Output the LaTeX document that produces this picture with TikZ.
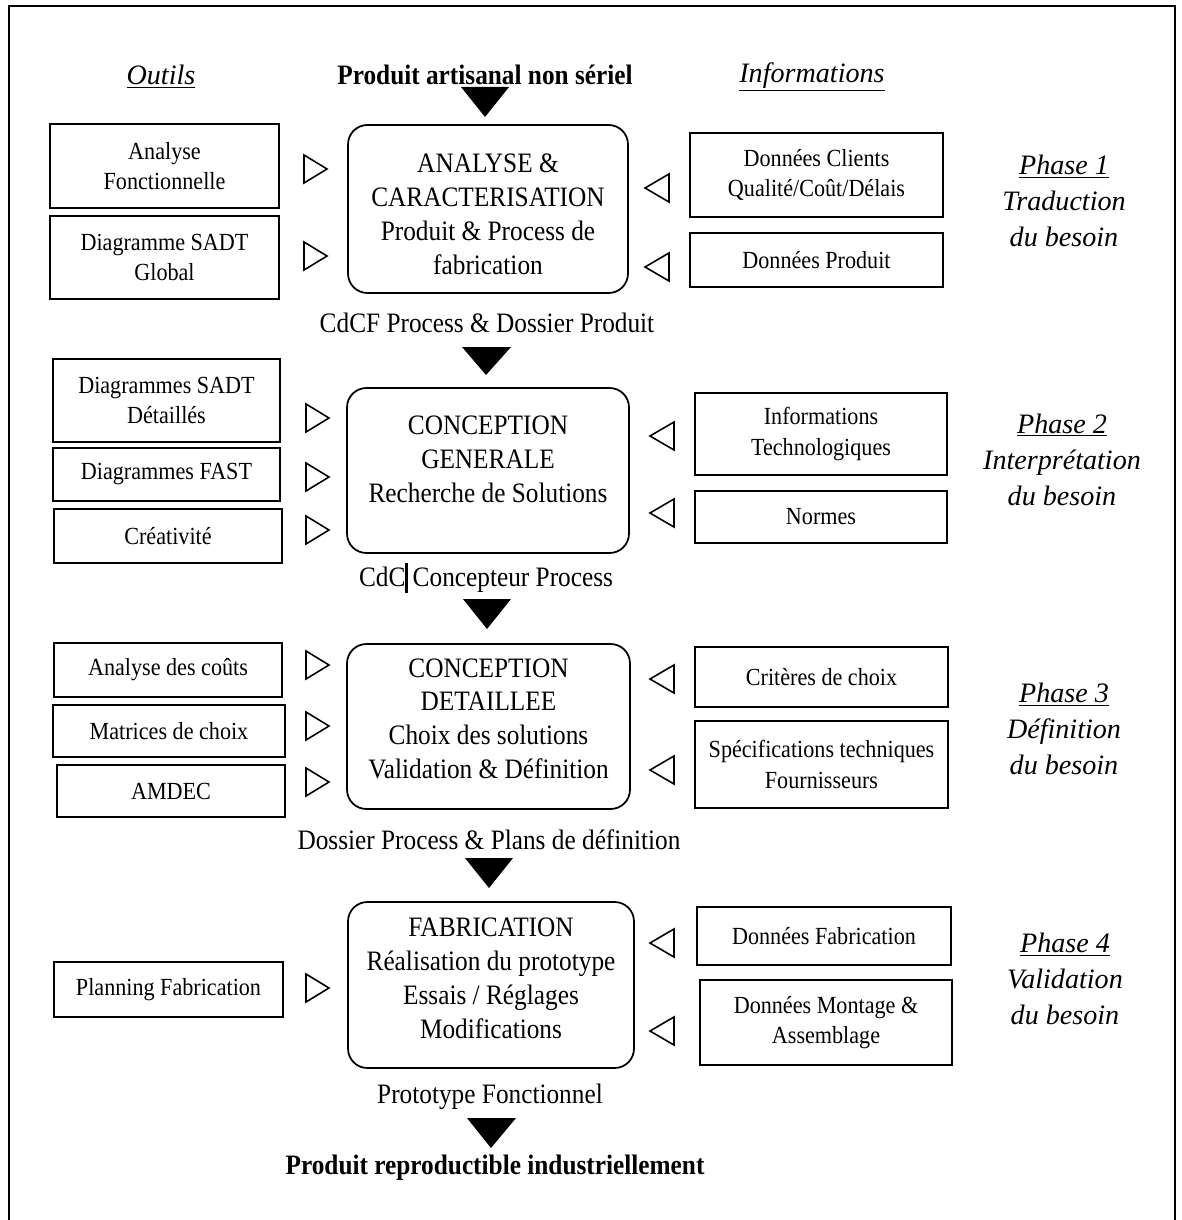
\documentclass[tikz,border=0pt]{standalone}
\usepackage{fontspec}
\setmainfont{Liberation Serif}[FakeStretch=0.9]
\newfontfamily\phasefont{Liberation Serif}
\usepackage{tikz}

\begin{document}
\begin{tikzpicture}[x=0.02cm,y=-0.02cm,
  outil/.style={draw,line width=1pt,align=center,inner sep=0pt,font=\fontsize{14}{17.5}\selectfont},
  etape/.style={draw,line width=1pt,rounded corners=11pt,align=center,inner sep=0pt,font=\fontsize{16}{19.3}\selectfont},
  livrable/.style={font=\fontsize{16}{19}\selectfont},
  titre/.style={font=\fontsize{16}{19}\selectfont\bfseries},
  entete/.style={align=center,font=\phasefont\itshape\fontsize{16}{20.5}\selectfont},
  ouvert/.style={draw,line width=0.9pt,fill=white}]
  \useasboundingbox (0,0) rectangle (1182,1220);
  \draw[line width=1.1pt] (9,1220) -- (9,6) -- (1175,6) -- (1175,1220);

  \node[entete] (outils) at (161,77) {\underline{Outils}};
  \node[entete] (infos) at (812,77) {\underline{Informations}};
  \node[titre] (depart) at (485,75) {Produit artisanal non sériel};

  % phase 1
  \node[etape,minimum width=5.6cm,minimum height=3.36cm] (s1) at (488,209) {\rule{0pt}{17pt}ANALYSE \&\\CARACTERISATION\\Produit \& Process de\\fabrication};
  \node[outil,minimum width=4.58cm,minimum height=1.68cm] (af) at (164.5,166) {Analyse\\Fonctionnelle};
  \node[outil,minimum width=4.58cm,minimum height=1.66cm] (sadt) at (164.5,257.5) {Diagramme SADT\\Global};
  \node[outil,minimum width=5.06cm,minimum height=1.68cm] (dc) at (816.5,175) {Données Clients\\Qualité/Coût/Délais};
  \node[outil,minimum width=5.06cm,minimum height=1.08cm] (dp) at (816.5,260) {Données Produit};
  \node[entete] (ph1) at (1064,201) {\underline{Phase 1}\\Traduction\\du besoin};
  \node[livrable] (l1) at (487,323) {CdCF Process \& Dossier Produit};

  % phase 2
  \node[etape,minimum width=5.64cm,minimum height=3.3cm] (s2) at (488,470.5) {CONCEPTION\\GENERALE\\Recherche de Solutions\rule[-13pt]{0pt}{13pt}};
  \node[outil,minimum width=4.54cm,minimum height=1.66cm] (sadtd) at (166.5,400.5) {Diagrammes SADT\\Détaillés};
  \node[outil,minimum width=4.54cm,minimum height=1.06cm] (fast) at (166.5,474.5) {Diagrammes FAST};
  \node[outil,minimum width=4.56cm,minimum height=1.08cm] (crea) at (168,536) {Créativité};
  \node[outil,minimum width=5.04cm,minimum height=1.64cm] (it) at (821,434) {Informations\\Technologiques};
  \node[outil,minimum width=5.04cm,minimum height=1.04cm] (nor) at (821,517) {Normes};
  \node[entete] (ph2) at (1062,459.5) {\underline{Phase 2}\\Interprétation\\du besoin};
  \node[livrable] (l2) at (486,578) {CdC\rule[-0.22em]{1.5pt}{1.05em}\,Concepteur Process};

  % phase 3
  \node[etape,minimum width=5.66cm,minimum height=3.3cm] (s3) at (488.5,726.5) {CONCEPTION\\DETAILLEE\\Choix des solutions\\Validation \& Définition\rule[-9pt]{0pt}{9pt}};
  \node[outil,minimum width=4.56cm,minimum height=1.08cm] (adc) at (168,670) {Analyse des coûts};
  \node[outil,minimum width=4.64cm,minimum height=1.04cm] (mdc) at (169,731) {Matrices de choix};
  \node[outil,minimum width=4.56cm,minimum height=1.04cm] (amdec) at (171,791) {AMDEC};
  \node[outil,minimum width=5.06cm,minimum height=1.2cm] (cc) at (821.5,677) {Critères de choix};
  \node[outil,minimum width=5.06cm,minimum height=1.74cm] (spec) at (821.5,764.5) {Spécifications techniques\\Fournisseurs};
  \node[entete] (ph3) at (1064,729) {\underline{Phase 3}\\Définition\\du besoin};
  \node[livrable] (l3) at (489,840) {Dossier Process \& Plans de définition};

  % phase 4
  \node[etape,minimum width=5.72cm,minimum height=3.32cm] (s4) at (491,985) {FABRICATION\\Réalisation du prototype\\Essais / Réglages\\Modifications\rule[-7.5pt]{0pt}{7.5pt}};
  \node[outil,minimum width=4.58cm,minimum height=1.1cm] (plan) at (168.5,989.5) {Planning Fabrication};
  \node[outil,minimum width=5.08cm,minimum height=1.16cm] (df) at (824,936) {Données Fabrication};
  \node[outil,minimum width=5.04cm,minimum height=1.7cm] (dma) at (826,1022.5) {Données Montage \&\\Assemblage};
  \node[entete] (ph4) at (1065,979) {\underline{Phase 4}\\Validation\\du besoin};
  \node[livrable] (l4) at (490,1097) {Prototype Fonctionnel};
  \node[titre] (fin) at (495,1168) {Produit reproductible industriellement};

  % fleches pleines
  \fill (461,87) -- (509,87) -- (485,117) -- cycle;
  \fill (462,347) -- (511,347) -- (486,375) -- cycle;
  \fill (463,599) -- (511,599) -- (487,629) -- cycle;
  \fill (465,858) -- (513,858) -- (489,888) -- cycle;
  \fill (467,1118) -- (516,1118) -- (491,1148) -- cycle;

  % outils -> etapes
  \draw[ouvert] (304,155) -- ++(23,14) -- ++(-23,14) -- cycle;
  \draw[ouvert] (304,242) -- ++(23,14) -- ++(-23,14) -- cycle;
  \draw[ouvert] (306,404) -- ++(23,14) -- ++(-23,14) -- cycle;
  \draw[ouvert] (306,463) -- ++(23,14) -- ++(-23,14) -- cycle;
  \draw[ouvert] (306,516) -- ++(23,14) -- ++(-23,14) -- cycle;
  \draw[ouvert] (306,651) -- ++(23,14) -- ++(-23,14) -- cycle;
  \draw[ouvert] (306,712) -- ++(23,14) -- ++(-23,14) -- cycle;
  \draw[ouvert] (306,768) -- ++(23,14) -- ++(-23,14) -- cycle;
  \draw[ouvert] (306,974) -- ++(23,14) -- ++(-23,14) -- cycle;

  % informations -> etapes
  \draw[ouvert] (669,174) -- ++(-24,14) -- ++(24,14) -- cycle;
  \draw[ouvert] (669,253) -- ++(-24,14) -- ++(24,14) -- cycle;
  \draw[ouvert] (674,422) -- ++(-24,14) -- ++(24,14) -- cycle;
  \draw[ouvert] (674,499) -- ++(-24,14) -- ++(24,14) -- cycle;
  \draw[ouvert] (674,665) -- ++(-24,14) -- ++(24,14) -- cycle;
  \draw[ouvert] (674,756) -- ++(-24,14) -- ++(24,14) -- cycle;
  \draw[ouvert] (674,929) -- ++(-24,14) -- ++(24,14) -- cycle;
  \draw[ouvert] (674,1017) -- ++(-24,14) -- ++(24,14) -- cycle;
\end{tikzpicture}
\end{document}
